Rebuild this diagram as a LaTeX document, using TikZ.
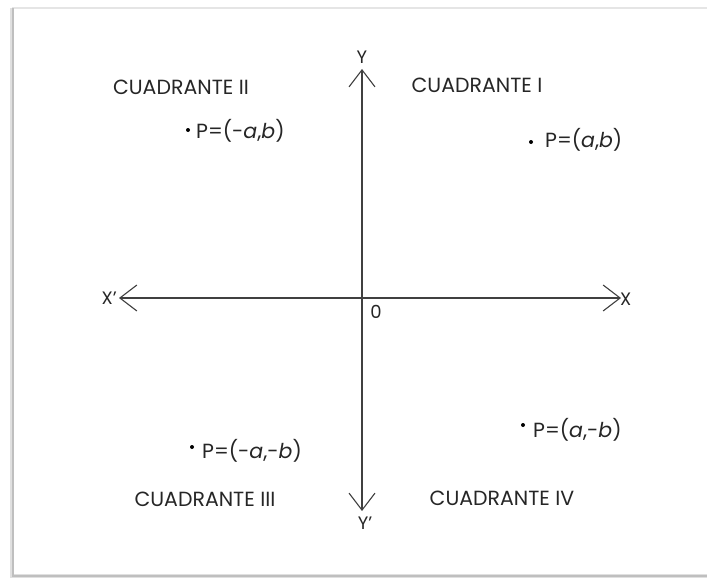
\documentclass[tikz,border=0pt]{standalone}
\usepackage{fontspec}
\setmainfont{Poppins}
\usetikzlibrary{arrows.meta}
\begin{document}
\begin{tikzpicture}[x=1pt,y=-1pt,
  axis/.style={draw=black!75,line width=1.1pt,-{Straight Barb[length=17pt,width=26pt,line width=1.1pt]}},
  lbl/.style={font=\fontsize{20.5}{22}\selectfont,text=black!85,inner sep=0pt},
  ax/.style={font=\fontsize{18}{20}\selectfont,text=black!85,inner sep=0pt},
  ptlbl/.style={font=\fontsize{20.5}{22}\selectfont,text=black!85,inner sep=0pt,anchor=west},
  dot/.style={circle,fill=black,inner sep=0pt,minimum size=4pt}]
\useasboundingbox (0,0) rectangle (707,578);
\fill[white] (0,0) rectangle (707,578);
% frame
\draw[black!12,line width=4pt] (12,8) -- (12,576) -- (710,576);
\draw[black!10,line width=1.5pt] (12,8) -- (710,8);
\draw[black!25,line width=1.2pt] (13,8) -- (13,576) -- (710,576);
% axes
\coordinate (xl) at (119,298);
\coordinate (xr) at (621,298);
\coordinate (yt) at (362,69);
\coordinate (yb) at (362,511);
\coordinate (o) at (362,298);
\draw[axis] (o) -- (xl);
\draw[axis] (o) -- (xr);
\draw[axis] (o) -- (yt);
\draw[axis] (o) -- (yb);
\node[ax,anchor=east] (lxp) at (117,298) {X'};
\node[ax,anchor=west] (lx) at (620,299) {X};
\node[ax] (ly) at (362,57) {Y};
\node[ax] (lyp) at (365,523) {Y'};
\node[ax] (lo) at (376,312) {0};
% quadrant titles
\node[lbl] (q2) at (181,87) {CUADRANTE II};
\node[lbl] (q1) at (477,85) {CUADRANTE I};
\node[lbl] (q3) at (205,499) {CUADRANTE III};
\node[lbl] (q4) at (502,498) {CUADRANTE IV};
% points
\node[dot] (p2) at (188,130) {};
\node[ptlbl] (t2) at (196,131) {P=(-\textit{a},\textit{b})};
\node[dot] (p1) at (531,142) {};
\node[ptlbl] (t1) at (545,140) {P=(\textit{a},\textit{b})};
\node[dot] (p3) at (192,447) {};
\node[ptlbl] (t3) at (202,451) {P=(-\textit{a},-\textit{b})};
\node[dot] (p4) at (523,425) {};
\node[ptlbl] (t4) at (533,430) {P=(\textit{a},-\textit{b})};
\end{tikzpicture}
\end{document}
